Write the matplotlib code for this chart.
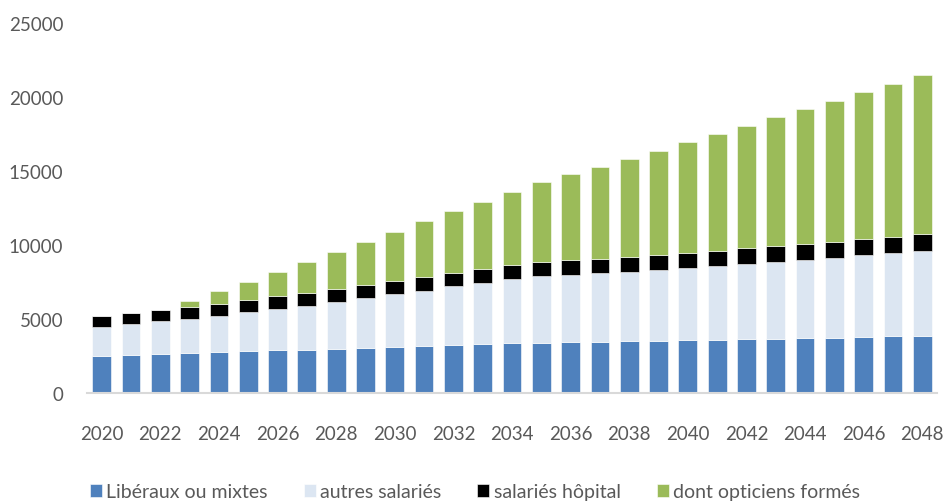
import numpy as np
import matplotlib
matplotlib.use("Agg")
import matplotlib.pyplot as plt

plt.rcParams['font.family'] = ['Lato', 'DejaVu Sans']

years = list(range(2020, 2049))

# segment heights
liberaux = [2520, 2590, 2635, 2700, 2770, 2840, 2905, 2945, 3015, 3080,
            3150, 3215, 3285, 3330, 3380, 3420, 3445, 3485, 3515, 3555,
            3600, 3620, 3670, 3690, 3735, 3755, 3805, 3850, 3870]
autres = [1960, 2070, 2230, 2340, 2475, 2635, 2770, 2955, 3155, 3340,
          3540, 3715, 3945, 4100, 4325, 4485, 4570, 4620, 4700, 4775,
          4865, 5000, 5070, 5180, 5290, 5405, 5520, 5610, 5745]
hopital = [720, 760, 745, 770, 810, 810, 880, 900, 880, 920,
           920, 945, 920, 965, 965, 985, 995, 990, 1015, 1035,
           1035, 1015, 1080, 1080, 1060, 1080, 1100, 1120, 1130]
opticiens = [0, 0, 0, 425, 840, 1235, 1640, 2075, 2500, 2885,
             3290, 3745, 4170, 4550, 4955, 5385, 5790, 6215, 6600, 7025,
             7460, 7885, 8265, 8695, 9120, 9505, 9915, 10320, 10745]

series = [
    ("Libéraux ou mixtes", liberaux, "#4F81BD"),
    ("autres salariés", autres, "#DCE6F2"),
    ("salariés hôpital", hopital, "#000000"),
    ("dont opticiens formés", opticiens, "#9BBB59"),
]

fig = plt.figure(figsize=(9.46, 5.02), dpi=100)
ax = fig.add_axes([87 / 946, 107.7 / 502, 850 / 946, 370 / 502])

x = np.arange(len(years))
bottom = np.zeros(len(years))
for label, vals, color in series:
    vals = np.array(vals, dtype=float)
    ax.bar(x, vals, width=0.64, bottom=bottom, color=color, label=label,
           edgecolor="white", linewidth=0.4)
    bottom += vals

ax.set_xlim(-0.5, len(years) - 0.5)
ax.set_ylim(0, 25000)
ax.set_yticks(range(0, 25001, 5000))
ax.set_xticks(x[::2])
ax.set_xticklabels([str(y) for y in years[::2]])

for side in ["top", "right", "left"]:
    ax.spines[side].set_visible(False)
ax.spines["bottom"].set_color("#D9D9D9")
ax.spines["bottom"].set_linewidth(1.5)

ax.tick_params(axis="x", length=0, pad=23, labelsize=13.5, colors="#595959")
ax.tick_params(axis="y", length=0, pad=17, labelsize=13.5, colors="#595959")

fig.legend(loc="center", bbox_to_anchor=(0.502, 1 - 493 / 502), ncol=4,
           frameon=False, fontsize=14, handlelength=0.62, handleheight=0.62,
           handletextpad=0.22, columnspacing=1.85, labelcolor="#595959",
           borderpad=0)

fig.savefig("out.png", dpi=100)
